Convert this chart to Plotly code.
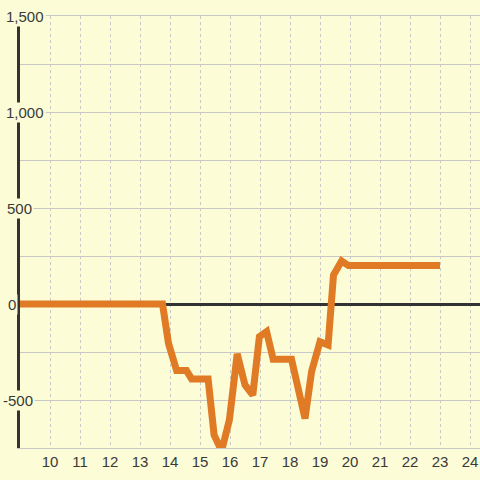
import plotly.graph_objects as go

# series
hours = [9.0, 13.75, 13.95, 14.22, 14.55, 14.72, 15.27, 15.47, 15.72, 15.98,
         16.24, 16.5, 16.76, 16.98, 17.22, 17.44, 18.05, 18.5, 18.72, 19.0,
         19.27, 19.45, 19.72, 19.95, 23.0]
values = [0, 0, -205, -347, -347, -390, -390, -682, -765, -604,
          -260, -422, -474, -170, -144, -288, -288, -596, -352, -196,
          -213, 151, 224, 200, 200]

x_ticks = list(range(10, 25))
y_labels = [1500, 1000, 500, 0, -500]

BG = "#fcfcd6"
ORANGE = "#e07a24"
DARK = "#333333"
GRID = "#c8c8c8"
TEXT = "#3a3a3a"
FONT = "Liberation Sans, Arial, sans-serif"

fig = go.Figure()
fig.add_trace(go.Scatter(
    x=hours, y=values, mode="lines",
    line=dict(color=ORANGE, width=7),
    hoverinfo="skip", showlegend=False,
))

# plot area is 460 px wide, 30 px per hour
fig.update_xaxes(
    range=[9, 9 + 460 / 30],
    tickvals=x_ticks,
    ticktext=[str(t) for t in x_ticks],
    showgrid=True, gridcolor=GRID, gridwidth=1, griddash="3px,3px",
    showline=True, mirror=True, linecolor=GRID, linewidth=1,
    zeroline=False, ticks="",
    tickfont=dict(family=FONT, size=15, color=TEXT),
)
fig.update_yaxes(
    range=[-750, 1500],
    dtick=250, tick0=0,
    showgrid=True, gridcolor=GRID, gridwidth=1,
    showline=True, linecolor=DARK, linewidth=3,
    zeroline=True, zerolinecolor=DARK, zerolinewidth=3,
    showticklabels=False, ticks="",
)

# y labels sit over the axis line with a knocked-out background
label_left = {1500: 4, 1000: 4, 500: 5, 0: 6, -500: 1}
for v in y_labels:
    fig.add_annotation(
        x=(label_left[v] - 20) / 460, xref="paper", xanchor="left",
        y=v, yref="y", yanchor="middle",
        text=f"{v:,}", showarrow=False,
        font=dict(family=FONT, size=15, color=TEXT),
        bgcolor=BG, borderpad=1,
    )

fig.update_layout(
    width=480, height=480,
    margin=dict(l=20, r=0, t=16, b=32),
    paper_bgcolor=BG, plot_bgcolor=BG,
)

fig.write_html("out.html", config={"displayModeBar": False},
               post_script="document.body.style.margin='0';")
